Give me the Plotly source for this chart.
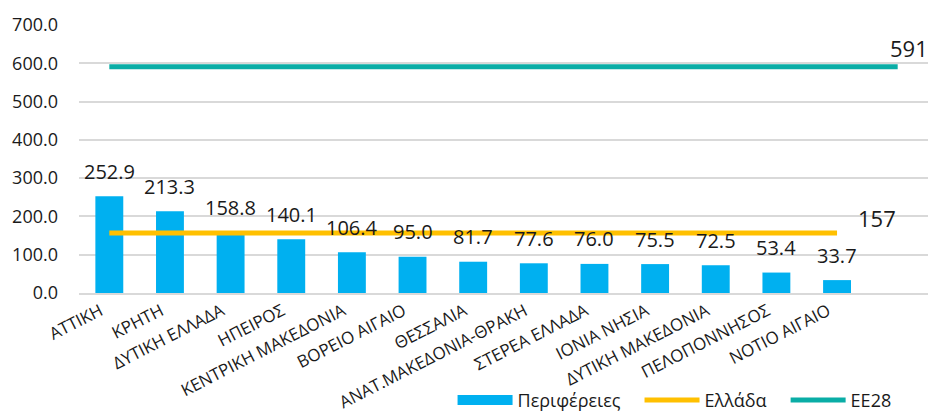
import plotly.graph_objects as go

categories = ["ΑΤΤΙΚΗ", "ΚΡΗΤΗ", "ΔΥΤΙΚΗ ΕΛΛΑΔΑ", "ΗΠΕΙΡΟΣ", "ΚΕΝΤΡΙΚΗ ΜΑΚΕΔΟΝΙΑ",
              "ΒΟΡΕΙΟ ΑΙΓΑΙΟ", "ΘΕΣΣΑΛΙΑ", "ΑΝΑΤ.ΜΑΚΕΔΟΝΙΑ-ΘΡΑΚΗ", "ΣΤΕΡΕΑ ΕΛΛΑΔΑ",
              "ΙΟΝΙΑ ΝΗΣΙΑ", "ΔΥΤΙΚΗ ΜΑΚΕΔΟΝΙΑ", "ΠΕΛΟΠΟΝΝΗΣΟΣ", "ΝΟΤΙΟ ΑΙΓΑΙΟ"]
extra_category = " "
regions = [252.9, 213.3, 158.8, 140.1, 106.4, 95.0, 81.7, 77.6, 76.0, 75.5, 72.5, 53.4, 33.7]
greece = [157, 157, 157, 157, 157, 157, 157, 157, 157, 157, 157, 157, 157]
eu28 = [591, 591, 591, 591, 591, 591, 591, 591, 591, 591, 591, 591, 591, 591]
y_ticks = [0, 100, 200, 300, 400, 500, 600, 700]
series_names = ["Περιφέρειες", "Ελλάδα", "ΕΕ28"]

all_cats = categories + [extra_category]

BLUE = "#00B0F0"
YELLOW = "#FFC000"
TEAL = "#0AADA6"
FONT = "Open Sans"
TXT = "#1a1a1a"
PAD = "\u00a0" * 3  # extra spacing between legend entries

fig = go.Figure()
fig.add_trace(go.Bar(x=categories, y=regions, marker=dict(color=BLUE, line=dict(width=0)),
                     width=0.46, name=series_names[0], showlegend=False))
# legend proxy for the bar series (wide rectangle look)
fig.add_trace(go.Scatter(x=[None], y=[None], mode="lines", line=dict(color=BLUE, width=10),
                         name=series_names[0] + PAD))
fig.add_trace(go.Scatter(x=categories, y=greece, mode="lines", line=dict(color=YELLOW, width=5),
                         name=series_names[1] + PAD))
fig.add_trace(go.Scatter(x=all_cats, y=eu28, mode="lines", line=dict(color=TEAL, width=5),
                         name=series_names[2]))

annotations = []
for c, v in zip(categories, regions):
    annotations.append(dict(x=c, y=v, text=f"{v:.1f}", showarrow=False, yanchor="middle",
                            yshift=25, font=dict(family=FONT, size=20, color=TXT)))
annotations.append(dict(x=all_cats[-1], y=eu28[-1], text=f"{eu28[-1]:.0f}", showarrow=False,
                        xanchor="center", yanchor="middle", xshift=11, yshift=19,
                        font=dict(family=FONT, size=22, color=TXT)))
annotations.append(dict(x=categories[-1], y=greece[-1], text=f"{greece[-1]:.0f}", showarrow=False,
                        xanchor="center", yanchor="middle", xshift=40, yshift=15,
                        font=dict(family=FONT, size=22, color=TXT)))

fig.update_layout(
    width=930, height=412,
    margin=dict(l=79, r=2, t=25, b=119, autoexpand=False),
    paper_bgcolor="white", plot_bgcolor="white",
    font=dict(family=FONT, color=TXT),
    annotations=annotations,
    legend=dict(orientation="h", x=0.44, xanchor="left", y=-0.40, yanchor="middle",
                font=dict(family=FONT, size=18, color=TXT), itemwidth=55,
                bgcolor="rgba(0,0,0,0)", traceorder="normal"),
    xaxis=dict(type="category", categoryorder="array", categoryarray=all_cats,
               range=[-0.5, 13.5], tickangle=-27, tickfont=dict(family=FONT, size=17, color=TXT),
               showline=True, linecolor="#D9D9D9", linewidth=1.5, showgrid=False, ticks="",
               ticklabelshift=-9, ticklabelstandoff=0,
               automargin=False, fixedrange=True),
    yaxis=dict(range=[0, 700], tickvals=y_ticks, tickformat=".1f",
               tickfont=dict(family=FONT, size=18, color=TXT),
               showgrid=True, gridcolor="#D9D9D9", gridwidth=1.5, zeroline=False,
               ticklabelstandoff=20, automargin=False, fixedrange=True),
)

fig.write_html("out.html", config={"displayModeBar": False},
               post_script="document.body.style.margin='0';document.body.style.overflow='hidden';")
